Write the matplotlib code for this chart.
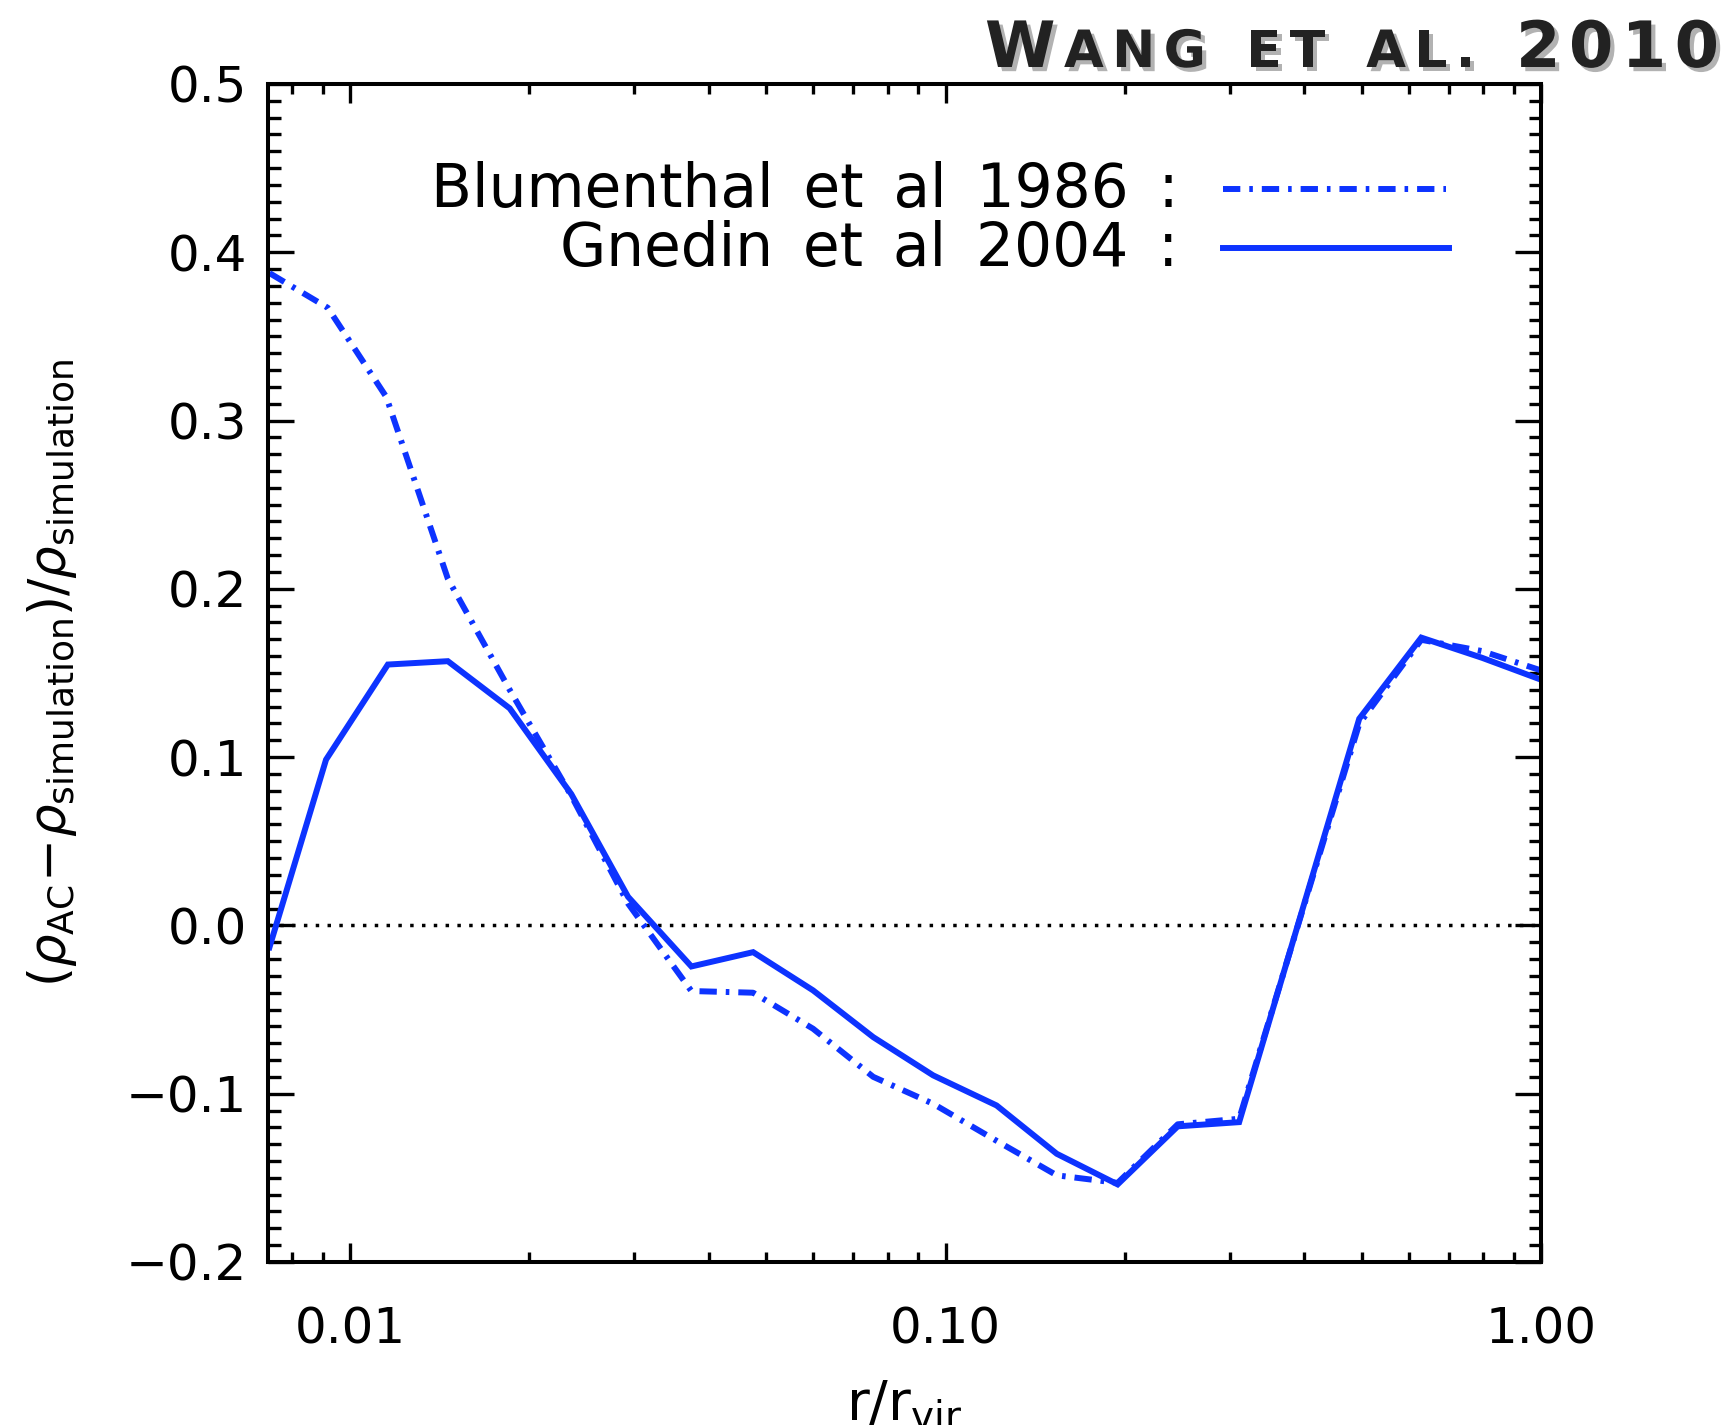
import numpy as np
import matplotlib
matplotlib.use('Agg')
import matplotlib.pyplot as plt
import matplotlib.patheffects as pe
from matplotlib.lines import Line2D
from matplotlib.ticker import FixedLocator, NullFormatter, MultipleLocator

# радиус в единицах r_vir
r_gnedin = [0.00732, 0.00911, 0.01157, 0.01459, 0.01853, 0.02352, 0.02929, 0.03742,
            0.04751, 0.0599, 0.0756, 0.0953, 0.1218, 0.1537, 0.1945, 0.2454,
            0.3112, 0.4951, 0.6293, 0.7961, 1.0]
# (rho_AC - rho_sim) / rho_sim, Gnedin et al 2004
d_gnedin = [-0.013, 0.0985, 0.155, 0.157, 0.129, 0.078, 0.017, -0.0244,
            -0.0159, -0.0386, -0.0664, -0.0891, -0.107, -0.1357, -0.1539, -0.1194,
            -0.1169, 0.1228, 0.171, 0.159, 0.146]

r_blum = [0.00732, 0.00917, 0.01150, 0.01459, 0.01853, 0.02352, 0.02929, 0.03742,
          0.04751, 0.0599, 0.0756, 0.0953, 0.1218, 0.1537, 0.1945, 0.2454,
          0.3112, 0.4951, 0.6293, 0.7961, 1.0]
# Blumenthal et al 1986
d_blum = [0.3876, 0.367, 0.314, 0.206, 0.14, 0.077, 0.013, -0.039,
          -0.040, -0.0614, -0.090, -0.106, -0.128, -0.1485, -0.153, -0.1182,
          -0.1149, 0.1198, 0.1697, 0.163, 0.1515]

xticks = [0.01, 0.1, 1.0]
xtick_labels = ['0.01', '0.10', '1.00']
labels = ['Blumenthal et al 1986 :', 'Gnedin et al 2004 :']

blue = '#0d33ff'
plt.rcParams['font.family'] = 'DejaVu Sans'
plt.rcParams['mathtext.fontset'] = 'dejavusans'

fig = plt.figure(figsize=(17.35, 14.25), dpi=100)
ax = fig.add_axes([0.1545, 0.1144, 0.7337, 0.8267])

# нулевая линия
ax.axhline(0.0, color='k', lw=2.5, linestyle=(0, (1, 2.4)))

ax.plot(r_blum, d_blum, color=blue, lw=4.3, dashes=(2.9, 1.5, 0.6, 1.5),
        dash_capstyle='butt', solid_joinstyle='miter')
ax.plot(r_gnedin, d_gnedin, color=blue, lw=4.3, solid_joinstyle='miter')

ax.set_xscale('log')
ax.set_xlim(0.00728, 1.0)
ax.set_ylim(-0.2, 0.5)

ax.xaxis.set_major_locator(FixedLocator(xticks))
ax.set_xticklabels(xtick_labels)
ax.xaxis.set_minor_locator(FixedLocator([k * 10.0**e for e in (-3, -2, -1) for k in range(2, 10)]))
ax.xaxis.set_minor_formatter(NullFormatter())
ax.yaxis.set_major_locator(MultipleLocator(0.1))
ax.yaxis.set_minor_locator(MultipleLocator(0.01))

def ylab(v, pos):
    return ('%.1f' % v).replace('-', '\u2212')
ax.yaxis.set_major_formatter(plt.FuncFormatter(ylab))

ax.tick_params(axis='both', which='both', direction='in', top=True, right=True, width=2.4, colors='k')
ax.tick_params(axis='y', which='major', length=19, pad=15, labelsize=36)
ax.tick_params(axis='y', which='minor', length=9)
ax.tick_params(axis='x', which='major', length=14, pad=31, labelsize=36)
ax.tick_params(axis='x', which='minor', length=7)
for s in ax.spines.values():
    s.set_linewidth(2.9)

# подписи осей
fig.text(0.030, 0.5277, r'$(\rho_{\rm AC}\!-\!\rho_{\rm simulation})/\rho_{\rm simulation}$',
         rotation=90, ha='center', va='center', fontsize=37)
fig.text(0.521, 0.014, r'r/r$_{\rm vir}$', ha='center', va='center', fontsize=40)

# легенда (слова разнесены пошире, как в оригинале)
ax.text(0.715, 0.8956, labels[0].replace(' ', '\u2002'), transform=ax.transAxes,
        ha='right', va='baseline', fontsize=43)
ax.text(0.715, 0.8455, labels[1].replace(' ', '\u2002'), transform=ax.transAxes,
        ha='right', va='baseline', fontsize=43)
ax.add_line(Line2D([0.750, 0.925], [0.9109, 0.9109], transform=ax.transAxes, color=blue,
                   lw=4.3, dashes=(2.9, 1.5, 0.6, 1.5), dash_capstyle='butt'))
ax.add_line(Line2D([0.750, 0.928], [0.8608, 0.8608], transform=ax.transAxes, color=blue, lw=4.3))

# заголовок капителью, по буквам
renderer = fig.canvas.get_renderer()
parts = [('W', 46), ('ANG', 37), (' ', 0), ('ET', 37), (' ', 0), ('AL.', 37), (' ', 0), ('2010', 46)]
shadow = [pe.SimplePatchShadow(offset=(3, -3), shadow_rgbFace='0.45', alpha=0.55), pe.Normal()]
chars = []
for word, size in parts:
    if word == ' ':
        chars.append(None)
        continue
    for c in word:
        t = fig.text(0, 0, c, fontsize=size, fontweight='bold', color='#222222',
                     ha='left', va='baseline', path_effects=shadow)
        chars.append(t)
space_px = 24
widths = [t.get_window_extent(renderer).width if t is not None else space_px for t in chars]
x0, x1 = 985.0, 1719.0
n_gaps = len(chars) - 1
extra = (x1 - x0 - sum(widths)) / n_gaps
x = x0
for t, w in zip(chars, widths):
    if t is not None:
        t.set_position((x / 1735.0, 1 - 67.0 / 1425.0))
    x += w + extra

fig.savefig('out.png', dpi=100)
